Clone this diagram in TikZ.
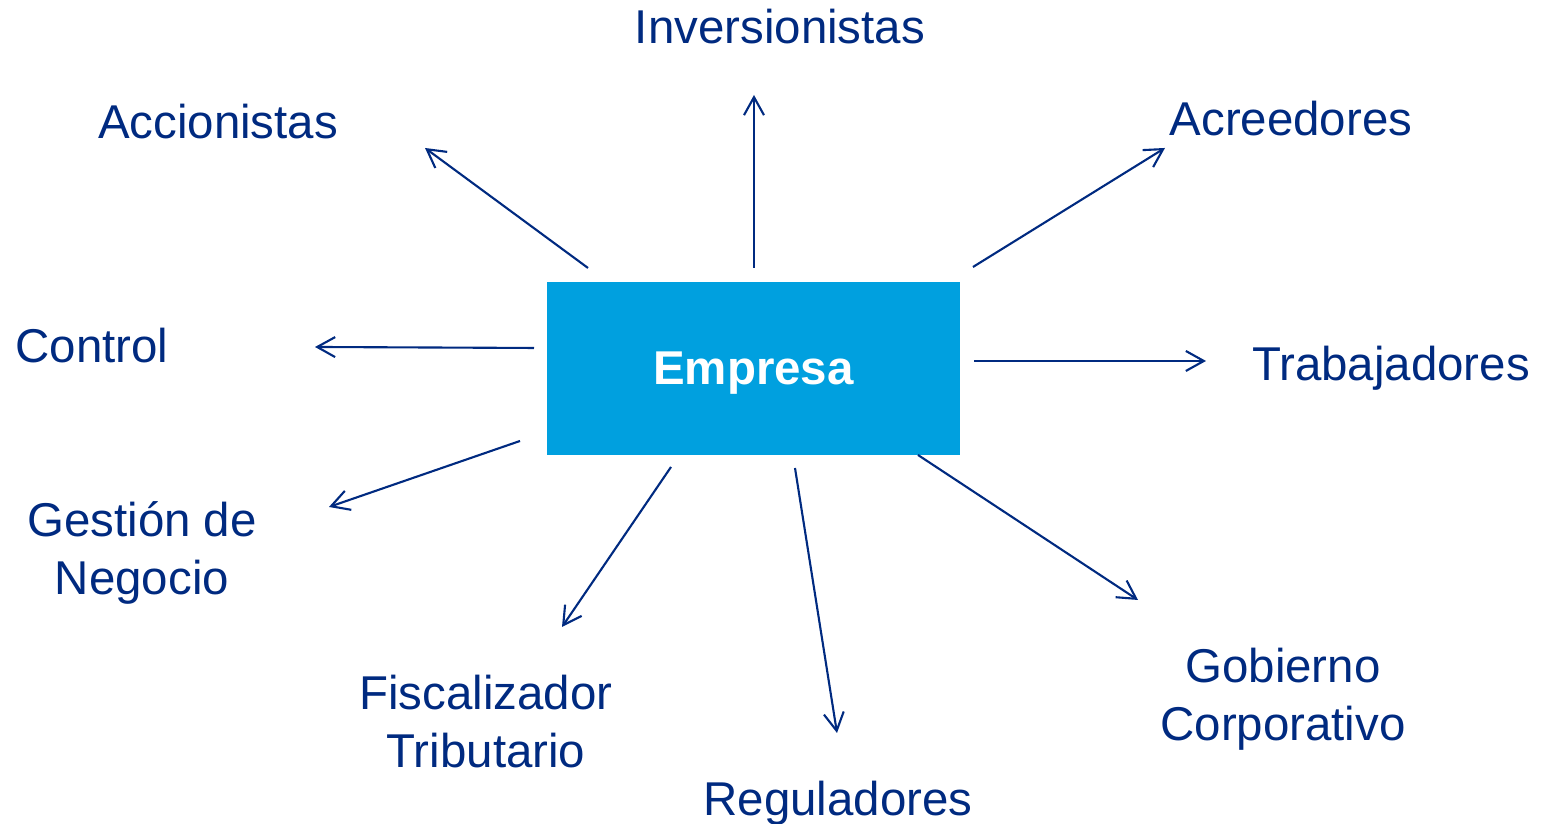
\documentclass[tikz,border=0pt]{standalone}
\usepackage{fontspec}
\setmainfont{Liberation Sans}
\usetikzlibrary{arrows.meta}
\definecolor{azul}{RGB}{0,42,128}
\definecolor{celeste}{RGB}{0,160,223}

\begin{document}
\begin{tikzpicture} [flecha/.style={draw=azul, line width=0.6pt, -{Straight Barb[length=1.8mm,width=2mm]}},
    etiqueta/.style={text=azul, font=\fontsize{13.5}{16.5}\selectfont, align=center, inner sep=0pt}]% ------ Empresa -----------------
    \useasboundingbox (0,0) rectangle (15.46,8.24);
    \node [fill=celeste, minimum width=4.13cm, minimum height=1.73cm, inner sep=0pt, text=white, text depth=0pt,
      font=\fontsize{13.5}{16.5}\selectfont\bfseries] (empresa) at (7.535,4.555) {Empresa};
    % ------ etiquetas -----------------
    \node [etiqueta] (inversionistas) at (7.80,7.97) {Inversionistas};
    \node [etiqueta] (accionistas) at (2.18,7.02) {Accionistas};
    \node [etiqueta] (acreedores) at (12.91,7.05) {Acreedores};
    \node [etiqueta] (control) at (0.92,4.78) {Control};
    \node [etiqueta] (trabajadores) at (13.91,4.56) {Trabajadores};
    \node [etiqueta] (gestion) at (1.42,2.71) {Gestión de\\Negocio};
    \node [etiqueta] (fiscalizador) at (4.86,1.02) {Fiscalizador\\Tributario};
    \node [etiqueta] (reguladores) at (8.38,0.21) {Reguladores};
    \node [etiqueta] (gobierno) at (12.83,1.25) {Gobierno\\Corporativo};
    % ------ flechas -----------------
    \coordinate (a1) at (5.88,5.56); \coordinate (a2) at (4.25,6.76);
    \coordinate (i1) at (7.54,5.56); \coordinate (i2) at (7.54,7.29);
    \coordinate (c1) at (9.73,5.57); \coordinate (c2) at (11.65,6.76);
    \coordinate (o1) at (5.34,4.76); \coordinate (o2) at (3.15,4.77);
    \coordinate (t1) at (9.74,4.63); \coordinate (t2) at (12.06,4.63);
    \coordinate (g1) at (5.20,3.83); \coordinate (g2) at (3.29,3.17);
    \coordinate (f1) at (6.71,3.57); \coordinate (f2) at (5.62,1.97);
    \coordinate (r1) at (7.95,3.56); \coordinate (r2) at (8.37,0.91);
    \coordinate (b1) at (9.18,3.69); \coordinate (b2) at (11.38,2.24);
    \draw [flecha] (a1) -- (a2);
    \draw [flecha] (i1) -- (i2);
    \draw [flecha] (c1) -- (c2);
    \draw [flecha] (o1) -- (o2);
    \draw [flecha] (t1) -- (t2);
    \draw [flecha] (g1) -- (g2);
    \draw [flecha] (f1) -- (f2);
    \draw [flecha] (r1) -- (r2);
    \draw [flecha] (b1) -- (b2);
\end{tikzpicture}
\end{document}
